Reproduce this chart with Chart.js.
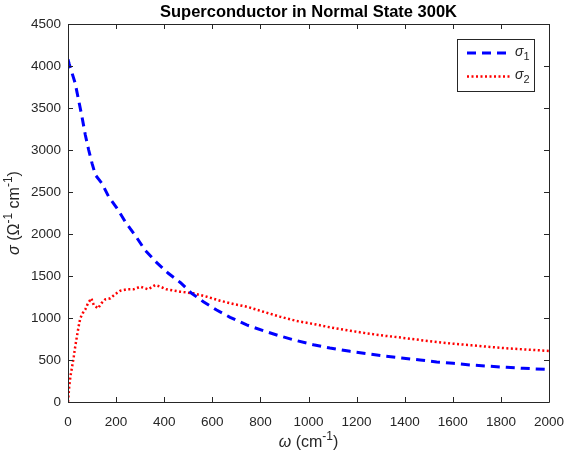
<!DOCTYPE html>
<html>
<head>
<meta charset="utf-8">
<script src="https://cdn.jsdelivr.net/npm/chart.js@4"></script>
<style>
  html, body { margin: 0; padding: 0; background: #fff; }
  #wrap { width: 564px; height: 459px; }
</style>
</head>
<body>
<div id="wrap"><canvas id="chart" width="564" height="459"></canvas></div>
<script>
// values
const omega1 = [0, 5, 30, 44, 58, 72, 86, 100, 114, 141, 169, 204, 238, 283, 320, 369, 417, 468, 514, 563, 618, 674, 743, 812, 881, 951, 1020, 1089, 1173, 1242, 1311, 1387, 1464, 1533, 1602, 1678, 1755, 1824, 1893, 1983, 2000];
const sigma1 = [4080, 4024, 3794, 3595, 3397, 3179, 3000, 2841, 2702, 2603, 2444, 2306, 2147, 1968, 1810, 1659, 1532, 1420, 1294, 1194, 1095, 1008, 917, 849, 786, 730, 682, 643, 603, 575, 548, 524, 500, 476, 460, 440, 425, 413, 401, 389, 387];

const omega2 = [0, 5, 10, 17, 24, 30, 37, 44, 51, 61, 72, 83, 97, 107, 125, 139, 155, 176, 197, 218, 245, 273, 301, 333, 363, 384, 410, 466, 521, 577, 632, 687, 743, 812, 881, 951, 1020, 1089, 1173, 1242, 1311, 1387, 1464, 1533, 1602, 1678, 1755, 1824, 1893, 1983, 2000];
const sigma2 = [0, 183, 302, 420, 540, 659, 778, 897, 996, 1056, 1103, 1175, 1234, 1155, 1115, 1175, 1222, 1234, 1286, 1325, 1341, 1341, 1373, 1341, 1393, 1373, 1341, 1313, 1294, 1254, 1206, 1167, 1135, 1075, 1016, 964, 929, 889, 849, 817, 790, 766, 738, 714, 694, 675, 655, 639, 627, 611, 608];

const seriesNames = ['σ1', 'σ2'];
const xTicks = [0, 200, 400, 600, 800, 1000, 1200, 1400, 1600, 1800, 2000];
const yTicks = [0, 500, 1000, 1500, 2000, 2500, 3000, 3500, 4000, 4500];
const chartTitle = 'Superconductor in Normal State 300K';

const FONT = '"Liberation Sans", Arial, Helvetica, sans-serif';
const AXIS = '#262626';

// draw a run of text pieces: {t, italic, sup, sub}
function drawRich(ctx, parts, x, y, size, align) {
    const fontFor = p => {
        const s = (p.sup || p.sub) ? Math.round(size * 0.75) : size;
        return (p.italic ? 'italic ' : '') + s + 'px ' + FONT;
    };
    let total = 0;
    parts.forEach(p => { ctx.font = fontFor(p); total += ctx.measureText(p.t).width; });
    let cx = align === 'center' ? x - total / 2 : x;
    ctx.textBaseline = 'middle';
    ctx.textAlign = 'left';
    parts.forEach(p => {
        ctx.font = fontFor(p);
        let dy = 0;
        if (p.sup) dy = -size * 0.38;
        if (p.sub) dy = size * 0.32;
        ctx.fillText(p.t, cx, y + dy);
        cx += ctx.measureText(p.t).width;
    });
}

const matlabFrame = {
    id: 'matlabFrame',
    beforeDraw(chart) {
        const ctx = chart.ctx;
        ctx.save();
        ctx.fillStyle = '#fff';
        ctx.fillRect(0, 0, chart.width, chart.height);
        ctx.restore();
    },
    afterDraw(chart) {
        const ctx = chart.ctx;
        const a = chart.chartArea;
        const xs = chart.scales.x, ys = chart.scales.y;
        ctx.save();
        ctx.strokeStyle = AXIS;
        ctx.lineWidth = 1;
        ctx.beginPath();
        ctx.rect(Math.round(a.left) + 0.5, Math.round(a.top) + 0.5, Math.round(a.right - a.left), Math.round(a.bottom - a.top));
        ctx.stroke();

        // inward ticks on all four sides
        const tl = 5;
        ctx.beginPath();
        xTicks.forEach(v => {
            const px = Math.round(xs.getPixelForValue(v)) + 0.5;
            ctx.moveTo(px, a.bottom); ctx.lineTo(px, a.bottom - tl);
            ctx.moveTo(px, a.top); ctx.lineTo(px, a.top + tl);
        });
        yTicks.forEach(v => {
            const py = Math.round(ys.getPixelForValue(v)) + 0.5;
            ctx.moveTo(a.left, py); ctx.lineTo(a.left + tl, py);
            ctx.moveTo(a.right, py); ctx.lineTo(a.right - tl, py);
        });
        ctx.stroke();

        // title, centred over the axes like MATLAB does
        ctx.fillStyle = '#000';
        ctx.font = 'bold 16.5px ' + FONT;
        ctx.textAlign = 'center';
        ctx.textBaseline = 'middle';
        ctx.fillText(chartTitle, (a.left + a.right) / 2, 12.5);

        // axis titles
        ctx.fillStyle = AXIS;
        drawRich(ctx, [{t: 'ω', italic: true}, {t: ' (cm'}, {t: '-1', sup: true}, {t: ')'}],
            (a.left + a.right) / 2, 443, 16, 'center');
        ctx.save();
        ctx.translate(15, (a.top + a.bottom) / 2);
        ctx.rotate(-Math.PI / 2);
        drawRich(ctx, [{t: 'σ', italic: true}, {t: ' (Ω'}, {t: '-1', sup: true}, {t: ' cm'}, {t: '-1', sup: true}, {t: ')'}],
            0, 0, 16, 'center');
        ctx.restore();

        // legend box
        const bx = 457.5, by = 39.5, bw = 77, bh = 52;
        ctx.fillStyle = '#fff';
        ctx.fillRect(bx, by, bw, bh);
        ctx.strokeStyle = '#262626';
        ctx.strokeRect(bx, by, bw, bh);
        chart.data.datasets.forEach((ds, i) => {
            const ly = i === 0 ? 53 : 76.5;
            ctx.save();
            ctx.strokeStyle = ds.borderColor;
            ctx.lineWidth = ds.borderWidth;
            ctx.setLineDash(ds.borderDash);
            ctx.beginPath();
            ctx.moveTo(467, ly);
            ctx.lineTo(511, ly);
            ctx.stroke();
            ctx.restore();
            ctx.fillStyle = AXIS;
            drawRich(ctx, [{t: 'σ', italic: true}, {t: seriesNames[i].slice(1), sub: true}], 515, ly - 1, 14, 'left');
        });
        ctx.restore();
    }
};

new Chart(document.getElementById('chart'), {
    type: 'line',
    data: {
        datasets: [
            {
                label: seriesNames[0],
                data: omega1.map((x, i) => ({ x: x, y: sigma1[i] })),
                borderColor: '#0000ff',
                borderWidth: 3,
                borderDash: [9, 6],
                pointRadius: 0,
                tension: 0,
                fill: false
            },
            {
                label: seriesNames[1],
                data: omega2.map((x, i) => ({ x: x, y: sigma2[i] })),
                borderColor: '#ff0000',
                borderWidth: 2.5,
                borderDash: [2, 2.5],
                pointRadius: 0,
                tension: 0,
                fill: false
            }
        ]
    },
    options: {
        responsive: false,
        animation: false,
        layout: { padding: { top: 24, right: 15, left: 0 } },
        plugins: {
            legend: { display: false },
            tooltip: { enabled: false },
            title: { display: false }
        },
        scales: {
            x: {
                type: 'linear',
                min: 0,
                max: 2000,
                afterFit: s => { s.height = 57; s.paddingLeft = 0; s.paddingRight = 0; },
                afterBuildTicks: s => { s.ticks = xTicks.map(v => ({ value: v })); },
                ticks: {
                    color: AXIS, font: { family: FONT, size: 13.5 }, padding: 12,
                    autoSkip: false, maxRotation: 0, callback: v => String(v)
                },
                grid: { display: false, drawTicks: false },
                border: { display: false }
            },
            y: {
                type: 'linear',
                min: 0,
                max: 4500,
                afterFit: s => { s.width = 68; s.paddingTop = 0; s.paddingBottom = 0; },
                afterBuildTicks: s => { s.ticks = yTicks.map(v => ({ value: v })); },
                ticks: { color: AXIS, font: { family: FONT, size: 13.5 }, padding: 7, callback: v => String(v) },
                grid: { display: false, drawTicks: false },
                border: { display: false }
            }
        }
    },
    plugins: [matlabFrame]
});
</script>
</body>
</html>
